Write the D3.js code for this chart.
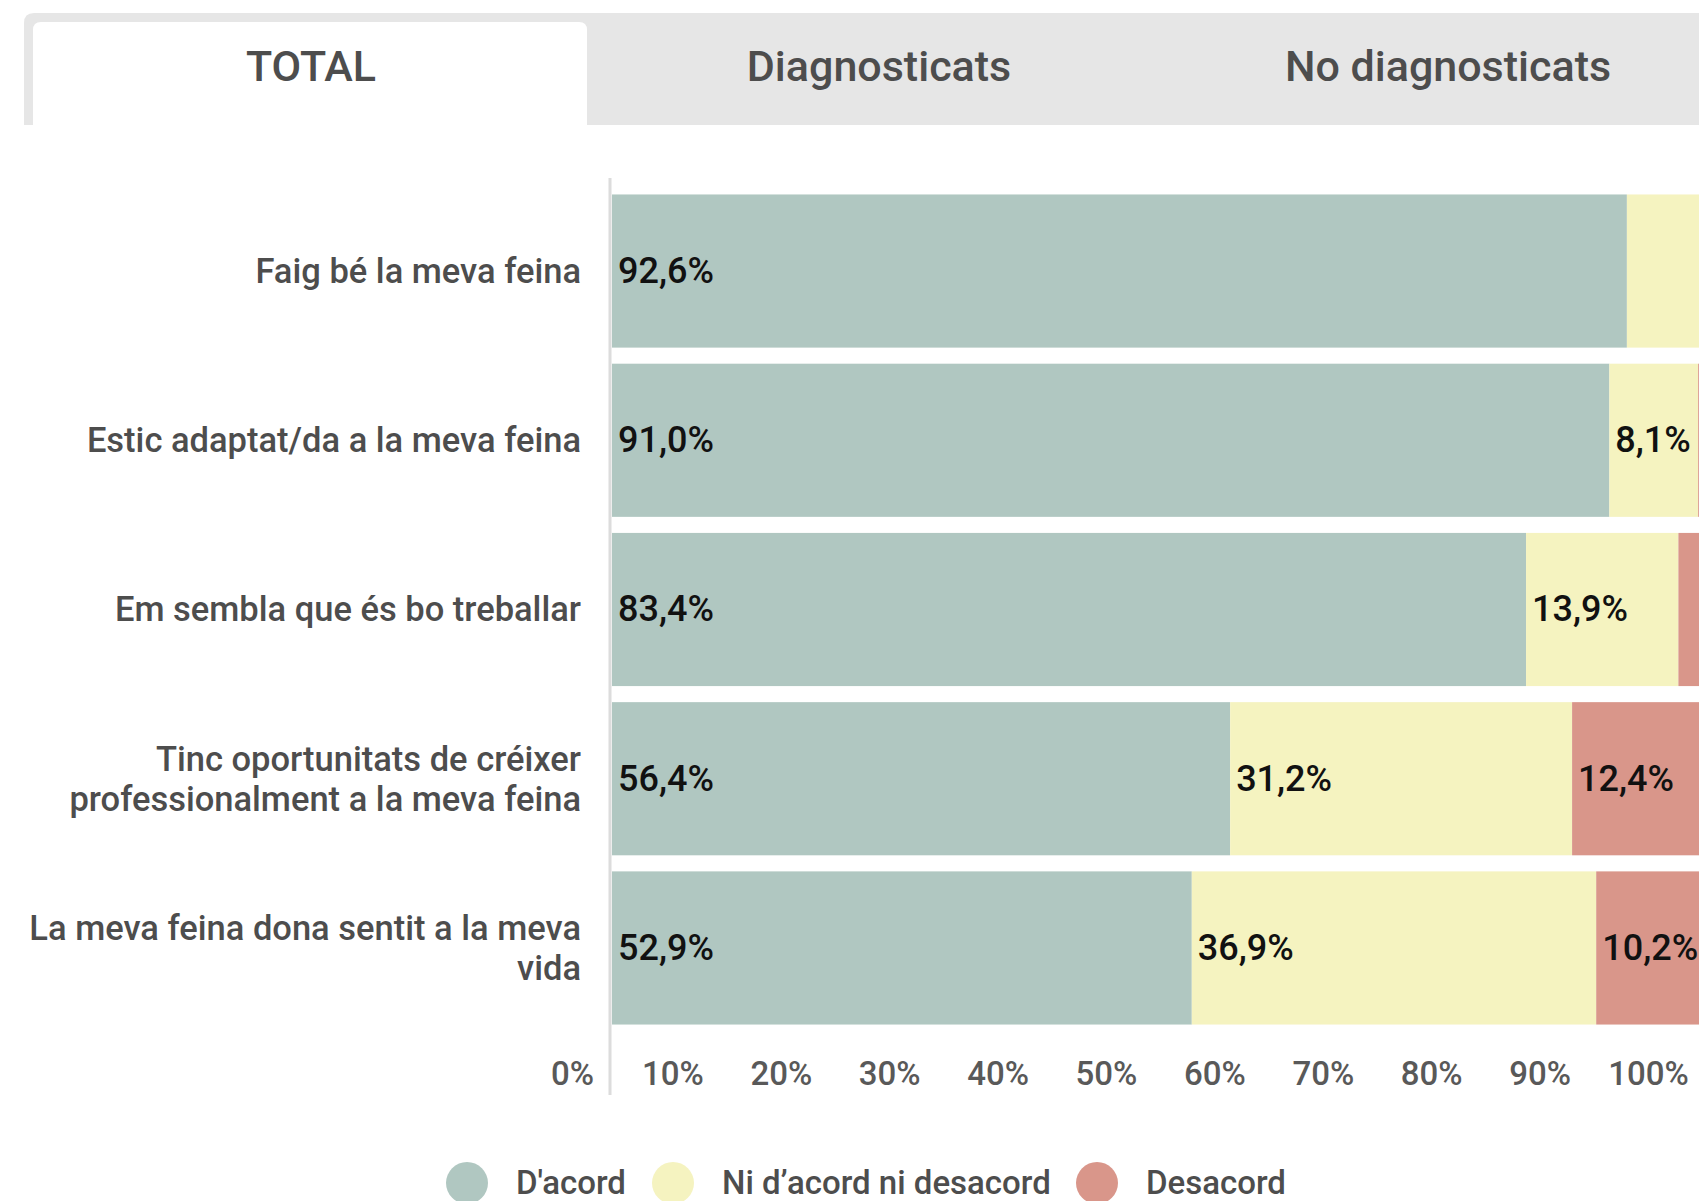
<!DOCTYPE html>
<html>
<head>
<meta charset="utf-8">
<script src="https://cdn.jsdelivr.net/npm/d3@7"></script>
<style>
  body { margin: 0; background: #fff; font-family: Roboto, "Noto Sans", sans-serif; }
  svg { display: block; }
</style>
</head>
<body>
<svg id="chart" width="1699" height="1201"></svg>
<script>
const tabs = ["TOTAL", "Diagnosticats", "No diagnosticats"];
const categories = [
  ["Faig bé la meva feina"],
  ["Estic adaptat/da a la meva feina"],
  ["Em sembla que és bo treballar"],
  ["Tinc oportunitats de créixer", "professionalment a la meva feina"],
  ["La meva feina dona sentit a la meva", "vida"]
];
const seriesNames = ["D'acord", "Ni d’acord ni desacord", "Desacord"];
const acord = [92.6, 91.0, 83.4, 56.4, 52.9];
const niAcord = [6.8, 8.1, 13.9, 31.2, 36.9];
const desacord = [0.6, 0.9, 2.7, 12.4, 10.2];
const tickValues = [0, 10, 20, 30, 40, 50, 60, 70, 80, 90, 100];
const colors = ["#b0c7c1", "#f5f3c0", "#d9968a"];

const svg = d3.select("#chart");

// tabs
svg.append("path")
  .attr("d", "M24,125 V23 Q24,13 34,13 H1699 V125 Z")
  .attr("fill", "#e6e6e6");
svg.append("path")
  .attr("d", "M33,125 V30 Q33,22 41,22 H579 Q587,22 587,30 V125 Z")
  .attr("fill", "#fff");
const tabX = [311, 879, 1448];
svg.selectAll(".tab")
  .data(tabs)
  .enter()
  .append("text")
  .attr("x", (d, i) => tabX[i])
  .attr("y", 81)
  .attr("text-anchor", "middle")
  .attr("font-size", 43)
  .attr("font-weight", 500)
  .attr("fill", "#4d4d4d")
  .text(d => d);

// data rows
const rows = categories.map((c, i) => {
  const vals = [acord[i], niAcord[i], desacord[i]];
  let acc = 0;
  const segs = vals.map((v, k) => {
    const s = { k: k, v: v, x0: acc, x1: acc + v };
    acc += v;
    return s;
  });
  return { label: c, segs: segs };
});

const x = d3.scaleLinear().domain([0, 100]).range([612, 1708]);
const y = d3.scaleBand()
  .domain(d3.range(categories.length))
  .range([186, 1033])
  .paddingInner(0.095)
  .paddingOuter(0.05);

const g = svg.selectAll(".row")
  .data(rows)
  .enter()
  .append("g")
  .attr("transform", (d, i) => `translate(0,${y(i)})`);

g.selectAll("rect")
  .data(d => d.segs)
  .enter()
  .append("rect")
  .attr("x", d => x(d.x0))
  .attr("width", d => x(d.x1) - x(d.x0))
  .attr("height", y.bandwidth())
  .attr("fill", d => colors[d.k]);

g.selectAll(".val")
  .data(d => d.segs.filter(s => s.v >= 8))
  .enter()
  .append("text")
  .attr("x", d => x(d.x0) + 6)
  .attr("y", y.bandwidth() / 2 + 12)
  .attr("font-size", 36)
  .attr("font-weight", 500)
  .attr("fill", "#111")
  .text(d => d.v.toFixed(1).replace(".", ",") + "%");

g.append("text")
  .attr("text-anchor", "end")
  .attr("font-size", 34.5)
  .attr("font-weight", 500)
  .attr("fill", "#4d4d4d")
  .selectAll("tspan")
  .data(d => d.label)
  .enter()
  .append("tspan")
  .attr("x", 581)
  .attr("y", (d, j, n) => y.bandwidth() / 2 + 12 + (j - (n.length - 1) / 2) * 40)
  .text(d => d);

// axis line
svg.append("line")
  .attr("x1", 610).attr("x2", 610)
  .attr("y1", 178).attr("y2", 1095)
  .attr("stroke", "#dcdcdc")
  .attr("stroke-width", 3);

// tick labels
const tickScale = d3.scaleLinear().domain([0, 100]).range([564, 1648]);
const axis = svg.append("g")
  .attr("transform", "translate(0,1062)")
  .call(d3.axisBottom(tickScale).tickValues(tickValues).tickSize(0).tickFormat(d => d + "%"));
axis.select(".domain").remove();
axis.selectAll("text")
  .attr("font-family", "Roboto, sans-serif")
  .attr("font-size", 33)
  .attr("font-weight", 500)
  .attr("fill", "#595959")
  .attr("dy", "0.71em")
  .attr("y", 0)
  .attr("x", d => d === 0 ? 8 : 0);

// legend
const legendCx = [467, 673, 1097];
const leg = svg.selectAll(".leg")
  .data(seriesNames)
  .enter()
  .append("g")
  .attr("transform", (d, i) => `translate(${legendCx[i]},1183)`);
leg.append("circle")
  .attr("r", 21)
  .attr("fill", (d, i) => colors[i]);
leg.append("text")
  .attr("x", 49)
  .attr("y", 11)
  .attr("font-size", 33)
  .attr("font-weight", 500)
  .attr("fill", "#4d4d4d")
  .text(d => d);
</script>
</body>
</html>
